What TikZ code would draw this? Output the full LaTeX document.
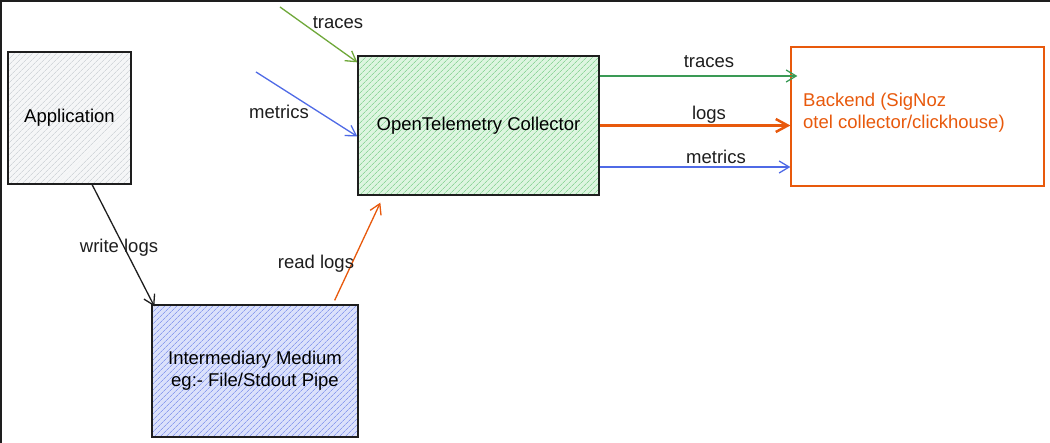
\documentclass[tikz,border=0pt]{standalone}
\usepackage{fontspec}
\setmainfont{Liberation Sans}
\usetikzlibrary{arrows.meta,patterns.meta,calc}
\definecolor{ink}{HTML}{1E1E1E}
\definecolor{orangeA}{HTML}{E8590C}
\definecolor{greenIn}{HTML}{6FA83A}
\definecolor{greenOut}{HTML}{3A9A55}
\definecolor{blueA}{HTML}{4F6AE6}
\definecolor{grayBg}{HTML}{F5F6F7}
\definecolor{grayLn}{HTML}{D3D7DB}
\definecolor{greenBg}{HTML}{DDF5E0}
\definecolor{greenLn}{HTML}{8FD69B}
\definecolor{blueBg}{HTML}{DBE1FB}
\definecolor{blueLn}{HTML}{8C9DEE}
\tikzset{
  box/.style={draw=ink, line width=1.3pt, rectangle, inner sep=0pt, align=center},
  hatchbox/.style 2 args={box, preaction={fill=#1},
    pattern={Lines[angle=45,distance=4pt,line width=0.8pt]}, pattern color=#2},
  lbl/.style={text=ink, inner sep=1pt},
  arr/.style={line width=1.3pt, -{Straight Barb[length=10pt,width=12pt]}},
}
\begin{document}
\begin{tikzpicture}[x=1pt, y=-1pt, font=\fontsize{18.5pt}{22pt}\selectfont]
\useasboundingbox (0,0) rectangle (1050,443);
\fill[white] (0,0) rectangle (1050,443);
\draw[ink, line width=2pt] (1050,1) -- (1,1) -- (1,443);

\node[hatchbox={grayBg}{grayLn}, minimum width=123pt, minimum height=132pt] (app) at (69.5,118) {Application};
\node[hatchbox={greenBg}{greenLn}, minimum width=241pt, minimum height=139pt] (coll) at (478.5,125.5) {OpenTelemetry Collector};
\node[box, draw=orangeA, line width=1.2pt, fill=white, minimum width=253pt, minimum height=139pt] (back) at (917.5,116.5) {};
\node[text=orangeA, anchor=west, align=left, inner sep=0pt] (backtxt) at (803,113) {Backend (SigNoz\\otel collector/clickhouse)};
\node[hatchbox={blueBg}{blueLn}, minimum width=206pt, minimum height=132pt] (med) at (255,371) {Intermediary Medium\\eg:- File/Stdout Pipe};

% incoming
\coordinate (tin) at (280,7);
\coordinate (min) at (256,72);
\draw[arr, greenIn] (tin) -- ([yshift=-7pt]coll.north west);
\draw[arr, blueA] (min) -- ([yshift=-11pt]coll.west);
\node[lbl] (ltin) at (338,23) {traces};
\node[lbl] (lmin) at (279,112) {metrics};

% outgoing
\coordinate (ot) at ([yshift=49.5pt]coll.east);
\coordinate (ol) at (coll.east);
\coordinate (om) at ([yshift=-41.5pt]coll.east);
\draw[arr, greenOut, shorten >=-7pt] (ot) -- (ot -| back.west);
\draw[arr, orangeA, line width=2.5pt, -{Straight Barb[length=12pt,width=13pt]}] (ol) -- (ol -| back.west);
\draw[arr, blueA] (om) -- (om -| back.west);
\node[lbl] (lot) at (709,62) {traces};
\node[lbl] (lol) at (709,115) {logs};
\node[lbl] (lom) at (716,157) {metrics};

% logs path
\draw[arr, ink] ([xshift=22.5pt]app.south) -- ([xshift=3pt,yshift=-2pt]med.north west);
\draw[arr, orangeA] ([xshift=-24pt,yshift=4pt]med.north east) -- ([xshift=23pt,yshift=-7pt]coll.south west);
\node[lbl] (lw) at (119,248) {write logs};
\node[lbl] (lr) at (316,264) {read logs};
\end{tikzpicture}
\end{document}
